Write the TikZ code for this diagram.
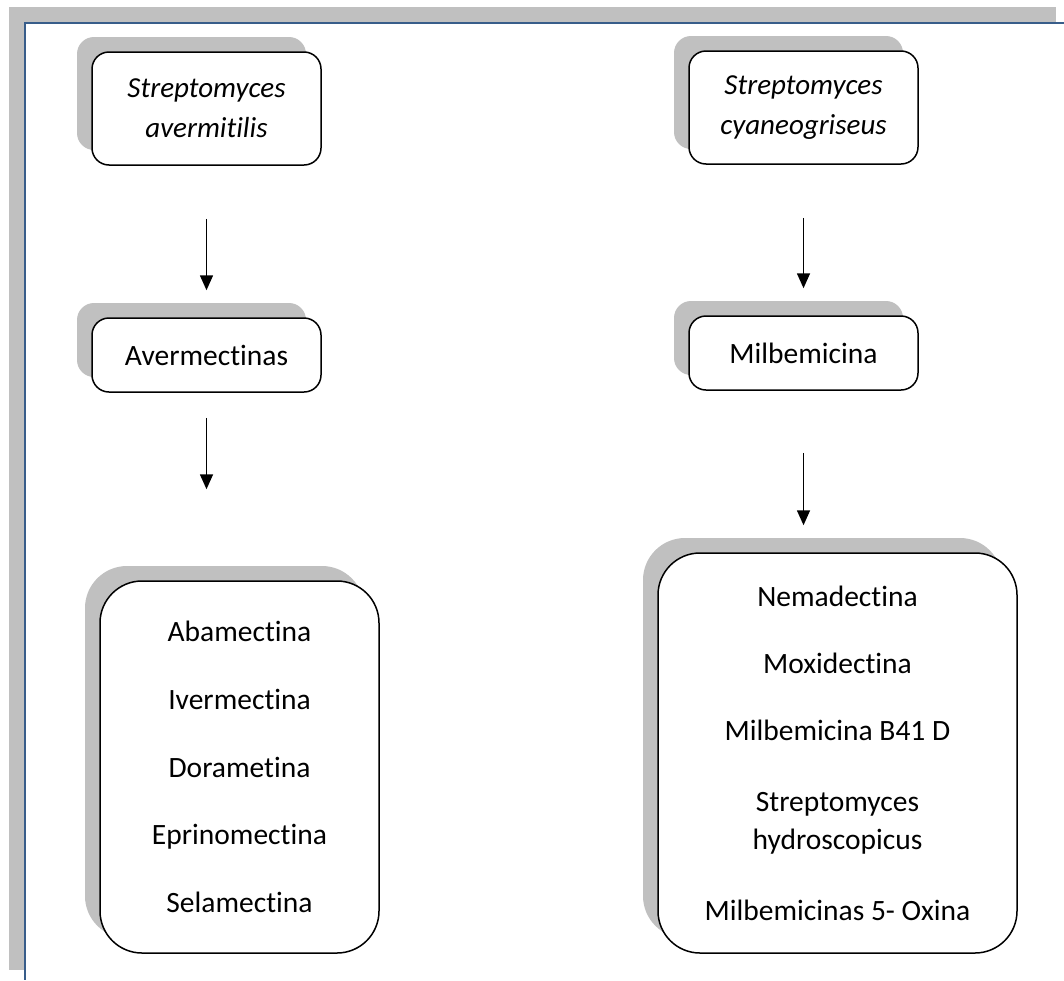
\documentclass[tikz,border=0pt]{standalone}
\usepackage{fontspec}
\setmainfont[Ligatures=NoCommon]{Carlito}
\usetikzlibrary{arrows.meta,shadows}
\definecolor{shadowgray}{RGB}{192,192,192}
\definecolor{frameblue}{RGB}{56,93,138}
\tikzset{
  box/.style={draw, line width=1.5pt, fill=white, align=center,
    font=\fontsize{29.5}{38}\selectfont,
    drop shadow={shadow xshift=-15pt, shadow yshift=15pt, fill=shadowgray, opacity=1}},
  small/.style={box, rounded corners=17pt, minimum width=229pt},
  big/.style={box, rounded corners=42pt},
  title/.style={font=\fontsize{29}{40}\selectfont\itshape}
}
\begin{document}
\begin{tikzpicture}[x=1pt, y=-1pt]
\useasboundingbox (0,0) rectangle (1064,980);

% page frame
\fill[shadowgray] (9,7) rectangle (1056,970);
\fill[white] (25,23) rectangle (1064,980);
\draw[frameblue, line width=2pt] (1064,23) -- (25,23) -- (25,980);

\node (sa) at (206.5,108.5) [small, title, minimum height=113pt] {Streptomyces\\avermitilis};
\node (sc) at (803.5,107.5) [small, title, minimum height=113pt] {Streptomyces\\cyaneogriseus};
\node (av) at (206.5,355) [small, minimum height=74pt] {Avermectinas};
\node (mb) at (803.5,353) [small, minimum height=74pt] {Milbemicina};
\node (avl) at (239.5,767) [big, minimum width=279pt, minimum height=372pt]
  {Abamectina\\[29.75pt]Ivermectina\\[29.75pt]Dorametina\\[29.75pt]Eprinomectina\\[29.75pt]Selamectina};
\node (mbl) at (837.5,753) [big, minimum width=359pt, minimum height=400pt]
  {Nemadectina\\[29pt]Moxidectina\\[29pt]Milbemicina B41 D\\[33pt]Streptomyces\\hydroscopicus\\[33pt]Milbemicinas 5- Oxina};

\begin{scope}[-{Triangle[width=13pt,length=15pt]}, line width=1.6pt]
\draw [shorten <=53pt, shorten >=27pt] (sa) -- (av);
\draw [shorten <=53pt, shorten >=27pt] (sc) -- (mb);
\draw [shorten <=25pt, shorten >=91pt] (av.south) -- (av.south |- avl.north);
\draw [shorten <=62pt, shorten >=27pt] (mb.south) -- (mb.south |- mbl.north);
\end{scope}

\end{tikzpicture}
\end{document}
